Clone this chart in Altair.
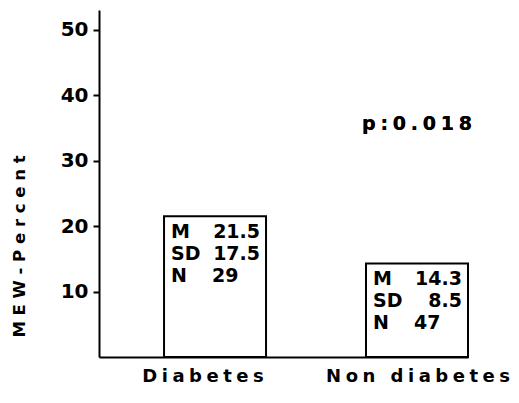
import altair as alt
import pandas as pd

# Mean MEW percentage by group, with the summary statistics printed in each bar
groups = ["Diabetes", "Non diabetes"]
means = [21.5, 14.3]
sds = [17.5, 8.5]
counts = [29, 47]
stat_names = ["M", "SD", "N"]
y_ticks = [10, 20, 30, 40, 50]
p_label = "p:0.018"
p_label_y = 34.7
y_title = "MEW-Percent"

FONT = "DejaVu Sans"
LINE = 22
QUARTER = "\u2005"  # four-per-em space used for letter spacing

df = pd.DataFrame({
    "group": groups,
    "mean": means,
    "names": ["\n".join(stat_names) for _ in groups],
    "decimals": [f"{m:.1f}\n{s:.1f}" for m, s in zip(means, sds)],
    "count": [str(n) for n in counts],
})

# letter-spaced category labels; the word gap becomes a non-breaking space
spaced = f"join(split(replace(datum.label, ' ', '\u00a0'), ''), '{QUARTER}')"

x_enc = alt.X(
    "group:N",
    sort=groups,
    scale=alt.Scale(paddingInner=0.495, paddingOuter=0.161, align=1),
    axis=alt.Axis(
        title=None,
        labelAngle=0,
        ticks=False,
        domainColor="black",
        domainWidth=2,
        labelFont=FONT,
        labelFontSize=18,
        labelFontWeight="bold",
        labelColor="black",
        labelPadding=10,
        labelLimit=0,
        labelExpr=spaced,
        labelOffset={"condition": {"test": "datum.value === 'Diabetes'", "value": -12}, "value": 1},
    ),
)

y_enc = alt.Y(
    "mean:Q",
    scale=alt.Scale(domain=[0, 53], nice=False, zero=True),
    axis=alt.Axis(
        values=y_ticks,
        grid=False,
        domainColor="black",
        domainWidth=2,
        tickColor="black",
        tickWidth=2,
        tickSize=6,
        labelFont=FONT,
        labelFontSize=20,
        labelFontWeight="bold",
        labelColor="black",
        labelPadding=5,
        title=" ".join(y_title),
        titleFont=FONT,
        titleFontSize=16.5,
        titleFontWeight="bold",
        titleColor="black",
        titleAngle=270,
        titleAlign="center",
        titleBaseline="alphabetic",
        titleX=-75,
        titleY=236,
    ),
)

base = alt.Chart(df)

bars = base.mark_bar(fill="white", stroke="black", strokeWidth=2).encode(x=x_enc, y=y_enc)

text_style = dict(
    font=FONT,
    fontSize=19,
    fontWeight="bold",
    color="black",
    baseline="alphabetic",
    lineBreak="\n",
    lineHeight=LINE,
)

x_text = alt.X("group:N", sort=groups)
y_text = alt.Y("mean:Q")

# statistic names, left column
names = base.mark_text(align="left", dx=-44, dy=LINE, **text_style).encode(
    x=x_text, y=y_text, text="names:N"
)
# mean and SD, aligned on the right
decimals = base.mark_text(align="right", dx=45, dy=LINE, **text_style).encode(
    x=x_text, y=y_text, text="decimals:N"
)
# case count on the third line
count = base.mark_text(align="left", dx=-3, dy=3 * LINE, **text_style).encode(
    x=x_text, y=y_text, text="count:N"
)

p_text = alt.Chart(df).mark_text(
    font=FONT, fontSize=19, fontWeight="bold", color="black",
    align="center", baseline="alphabetic",
).encode(
    x=alt.datum("Non diabetes"),
    y=alt.datum(p_label_y),
    text=alt.value(QUARTER.join(p_label)),
)

chart = (
    alt.layer(bars, names, decimals, count, p_text)
    .properties(
        width=369,
        height=347,
        padding={"left": 99, "top": 10, "right": 51, "bottom": 46},
        autosize=alt.AutoSizeParams(type="none"),
        background="white",
    )
    .configure_view(stroke=None)
)

chart.save("out.html", embed_options={"renderer": "svg", "actions": False})
